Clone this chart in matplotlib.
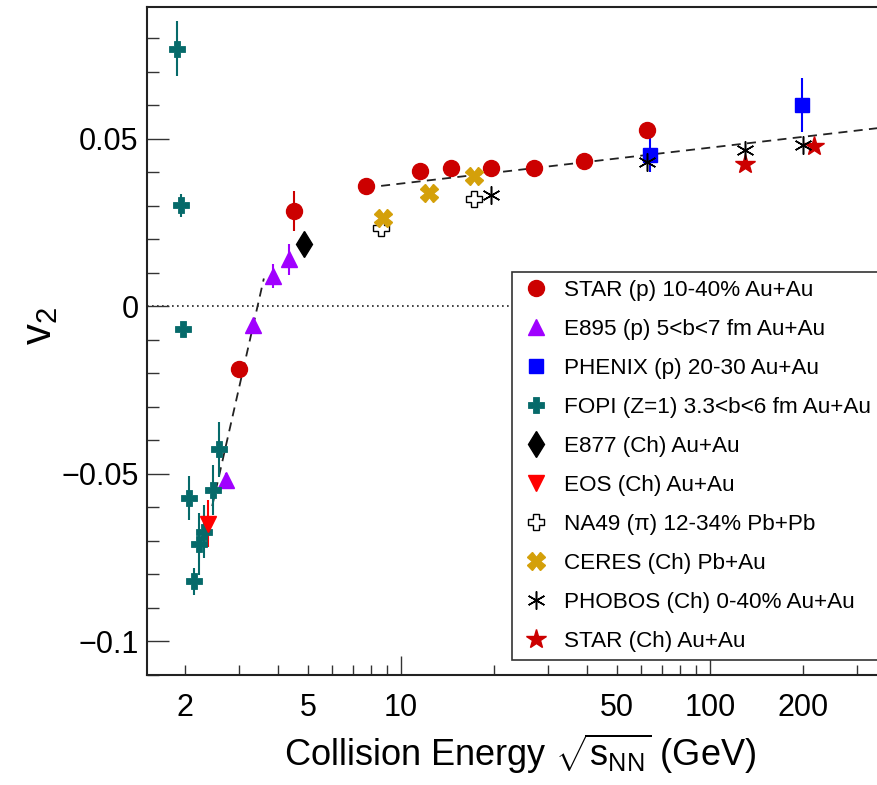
import matplotlib
matplotlib.use("Agg")
import matplotlib.pyplot as plt
import numpy as np

plt.rcParams['font.family'] = ['Liberation Sans', 'DejaVu Sans']
plt.rcParams['mathtext.fontset'] = 'custom'
plt.rcParams['mathtext.rm'] = 'Liberation Sans'
plt.rcParams['mathtext.it'] = 'Liberation Sans:italic'
plt.rcParams['mathtext.bf'] = 'Liberation Sans:bold'

# ---- data: elliptic flow v2 vs collision energy ----
star_p_E = [3.0, 4.5, 7.7, 11.5, 14.5, 19.6, 27.0, 39.0, 62.4]
star_p_v2 = [-0.0188, 0.0284, 0.0358, 0.0403, 0.0412, 0.0412, 0.0412, 0.0433, 0.0527]
star_p_err = [0.0008, 0.006, 0.0008, 0.0008, 0.0008, 0.0008, 0.0008, 0.0008, 0.0012]

e895_E = [2.72, 3.32, 3.85, 4.35]
e895_v2 = [-0.0518, -0.0057, 0.0091, 0.0140]
e895_err = [0.0020, 0.0020, 0.0036, 0.0047]

phenix_E = [64.0, 198.0]
phenix_v2 = [0.0451, 0.0600]
phenix_err = [0.0050, 0.0080]

fopi_E = [1.88, 1.94, 1.97, 2.06, 2.14, 2.22, 2.30, 2.46, 2.58]
fopi_v2 = [0.0769, 0.0301, -0.0067, -0.0572, -0.0821, -0.0710, -0.0672, -0.0549, -0.0427]
fopi_err = [0.0081, 0.0035, 0.0010, 0.0066, 0.0041, 0.0093, 0.0080, 0.0075, 0.0081]

e877_E = [4.86]
e877_v2 = [0.0186]

eos_E = [2.37]
eos_v2 = [-0.0648]
eos_err = [0.0069]

na49_E = [8.6, 17.2]
na49_v2 = [0.0234, 0.0321]

ceres_E = [8.74, 12.3, 17.2]
ceres_v2 = [0.0262, 0.0339, 0.0390]

phobos_E = [19.6, 62.4, 130.0, 200.0]
phobos_v2 = [0.0333, 0.0431, 0.0466, 0.0481]

star_ch_E = [130.0, 218.0]
star_ch_v2 = [0.0424, 0.0478]

# straight-line fits in log(E)
fit_low_E = [2.45, 3.6]
fit_low_v2 = [-0.0596, 0.0083]
fit_high_E = [7.7, 360.0]
fit_high_v2 = [0.0354, 0.0533]

xtick_vals = [2, 5, 10, 50, 100, 200]
xtick_labels = ['2', '5', '10', '50', '100', '200']
ytick_vals = [-0.1, -0.05, 0.0, 0.05]
ytick_labels = ['\u22120.1', '\u22120.05', '0', '0.05']

# ---- figure ----
fig = plt.figure(figsize=(8.78, 7.85), dpi=100)
ax = fig.add_axes([147 / 878, 110 / 785, 735 / 878, 668 / 785])
ax.set_xscale('log')
ax.set_xlim(1.507, 360.6)
ax.set_ylim(-0.110, 0.0893)

ax.axhline(0.0, color='#222222', lw=1.2, ls=(0, (1, 2.0)), zorder=1)
ax.plot(fit_low_E, fit_low_v2, color='#222222', lw=1.3, dashes=(5, 3.5), zorder=2)
ax.plot(fit_high_E, fit_high_v2, color='#222222', lw=1.3, dashes=(5, 3.5), zorder=2)

c_star = '#cc0000'
c_e895 = '#a000ff'
c_phenix = '#0000ff'
c_fopi = '#066a6a'
c_eos = '#ff0000'
c_ceres = '#d4a00a'

def errs(E, v, e, color, lw=1.5):
    ax.errorbar(E, v, yerr=e, fmt='none', ecolor=color, elinewidth=lw, capsize=0, zorder=3)

errs(star_p_E, star_p_v2, star_p_err, c_star)
errs(e895_E, e895_v2, e895_err, c_e895)
errs(phenix_E, phenix_v2, phenix_err, c_phenix)
errs(fopi_E, fopi_v2, fopi_err, c_fopi)
errs(eos_E, eos_v2, eos_err, c_eos)

h = []
h.append(ax.plot(star_p_E, star_p_v2, 'o', ms=11.5, color=c_star, mec=c_star, zorder=5,
                 label='STAR (p) 10-40% Au+Au')[0])
h.append(ax.plot(e895_E, e895_v2, '^', ms=11.5, color=c_e895, mec=c_e895, zorder=5,
                 label='E895 (p) 5<b<7 fm Au+Au')[0])
h.append(ax.plot(phenix_E, phenix_v2, 's', ms=10.5, color=c_phenix, mec=c_phenix, zorder=5,
                 label='PHENIX (p) 20-30 Au+Au')[0])
h.append(ax.plot(fopi_E, fopi_v2, 'P', ms=12, color=c_fopi, mec=c_fopi, mew=0.6, zorder=5,
                 label='FOPI (Z=1) 3.3<b<6 fm Au+Au')[0])
h.append(ax.plot(e877_E, e877_v2, 'd', ms=13, color='black', mec='black', zorder=5,
                 label='E877 (Ch) Au+Au')[0])
h.append(ax.plot(eos_E, eos_v2, 'v', ms=11.5, color=c_eos, mec=c_eos, zorder=6,
                 label='EOS (Ch) Au+Au')[0])
h.append(ax.plot(na49_E, na49_v2, 'P', ms=12, mfc='white', mec='black', mew=1.0, zorder=5,
                 label='NA49 (\u03c0) 12-34% Pb+Pb')[0])
h.append(ax.plot(ceres_E, ceres_v2, 'X', ms=12.5, color=c_ceres, mec=c_ceres, zorder=6,
                 label='CERES (Ch) Pb+Au')[0])
h.append(ax.plot(phobos_E, phobos_v2, marker=(6, 2, 0), ls='none', ms=13, color='black',
                 mec='black', mew=1.1, zorder=7, label='PHOBOS (Ch) 0-40% Au+Au')[0])
h.append(ax.plot(star_ch_E, star_ch_v2, '*', ms=15, color=c_star, mec=c_star, zorder=6,
                 label='STAR (Ch) Au+Au')[0])

# ---- axes styling ----
long_x = [10, 100]
minor_x = [3, 4, 6, 7, 8, 9, 20, 30, 40, 60, 70, 80, 90, 300]
ax.set_xticks([v for v in xtick_vals if v in long_x],
              labels=[l for v, l in zip(xtick_vals, xtick_labels) if v in long_x])
ax.set_xticks(minor_x + [v for v in xtick_vals if v not in long_x],
              labels=[''] * len(minor_x) + [l for v, l in zip(xtick_vals, xtick_labels) if v not in long_x],
              minor=True)

ax.set_yticks(ytick_vals, labels=ytick_labels)
ax.set_yticks([v for v in np.round(np.arange(-0.11, 0.09, 0.01), 3) if round(v / 0.05, 6) % 1 != 0],
              minor=True)

ax.tick_params(axis='both', which='both', direction='in', top=False, right=False,
               labelsize=22, width=1.0, color='#333333')
ax.tick_params(axis='y', which='major', length=16, pad=6)
ax.tick_params(axis='y', which='minor', length=8.5)
ax.tick_params(axis='x', which='major', length=14, pad=13)
ax.tick_params(axis='x', which='minor', length=7, pad=13)
for s in ax.spines.values():
    s.set_linewidth(1.5)
    s.set_color('#222222')

ax.set_xlabel(r'Collision Energy $\sqrt{\mathrm{s}_{\mathrm{NN}}}$ (GeV)', fontsize=26, va='center')
ax.xaxis.set_label_coords(0.508, -0.118)
ax.set_ylabel(r'v$_2$', fontsize=30, va='center')
ax.yaxis.set_label_coords(-0.146, 0.522)

leg = ax.legend(handles=h, loc='upper left', bbox_to_anchor=(512 / 878, 1 - 272 / 785),
                bbox_transform=fig.transFigure, borderaxespad=0, fontsize=16.2,
                frameon=True, fancybox=False, edgecolor='#333333', framealpha=1,
                handlelength=1.45, handletextpad=0.5, labelspacing=0.8, borderpad=0.35,
                markerscale=1.0)
leg.get_frame().set_linewidth(1.2)

fig.savefig('out.png', dpi=100)
